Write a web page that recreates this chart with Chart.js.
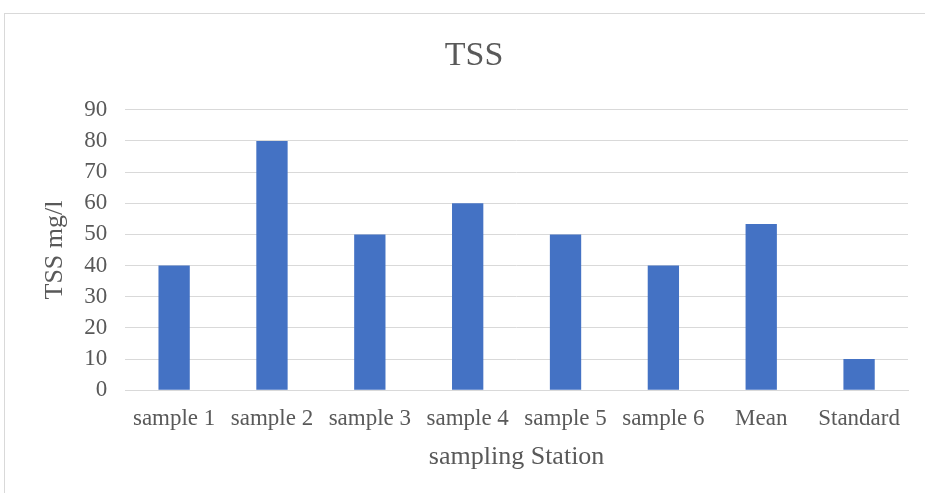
<!DOCTYPE html>
<html>
<head>
<meta charset="utf-8">
<script src="https://cdn.jsdelivr.net/npm/chart.js@4.4.1/dist/chart.umd.min.js"></script>
<style>
  body { margin: 0; background: #fff; overflow: hidden; }
  #frame { position: absolute; left: 4px; top: 13px; width: 940px; height: 500px; border: 1px solid #d9d9d9; }
  #wrap { position: absolute; left: 0; top: 0; width: 925px; height: 493px; }
</style>
</head>
<body>
<div id="frame"></div>
<div id="wrap"><canvas id="tss"></canvas></div>
<script>
'use strict';
// stations and measured TSS
let stations = ['sample 1', 'sample 2', 'sample 3', 'sample 4', 'sample 5', 'sample 6', 'Mean', 'Standard'];
let tssValues = [40, 80, 50, 60, 50, 40, 53.33, 10];
let yTicks = [0, 10, 20, 30, 40, 50, 60, 70, 80, 90];

let grey = '#595959';
let serif = "'Liberation Serif', 'Times New Roman', serif";

let ctx = document.getElementById('tss').getContext('2d');
let chart = new Chart(ctx, {
  type: 'bar',
  data: {
    labels: stations,
    datasets: [{
      label: 'TSS',
      data: tssValues,
      backgroundColor: '#4472c4',
      borderWidth: 0,
      barPercentage: 0.32,
      categoryPercentage: 1
    }]
  },
  options: {
    responsive: true,
    maintainAspectRatio: false,
    animation: false,
    layout: { padding: { left: 40, right: 17, top: 20, bottom: 20 } },
    plugins: {
      legend: { display: false },
      tooltip: { enabled: false },
      title: {
        display: true,
        text: 'TSS',
        color: grey,
        font: { family: serif, size: 34, weight: 'normal' },
        padding: { top: 16, bottom: 33 }
      }
    },
    scales: {
      x: {
        grid: { display: false, drawTicks: false },
        border: { color: '#d9d9d9' },
        ticks: { color: grey, font: { family: serif, size: 23 }, padding: 15, maxRotation: 0 },
        title: { display: true, text: 'sampling Station', color: grey, font: { family: serif, size: 26 }, padding: { top: -6, bottom: 0 } }
      },
      y: {
        min: 0,
        max: 90,
        afterBuildTicks: function (axis) { axis.ticks = yTicks.map(v => ({ value: v })); },
        grid: { color: '#d9d9d9', drawTicks: false },
        border: { display: false },
        ticks: { color: grey, font: { family: serif, size: 23 }, padding: 18, autoSkip: false },
        title: { display: true, text: 'TSS mg/l', color: grey, font: { family: serif, size: 26 }, padding: { top: 0, bottom: -5 } }
      }
    }
  }
});
</script>
</body>
</html>
